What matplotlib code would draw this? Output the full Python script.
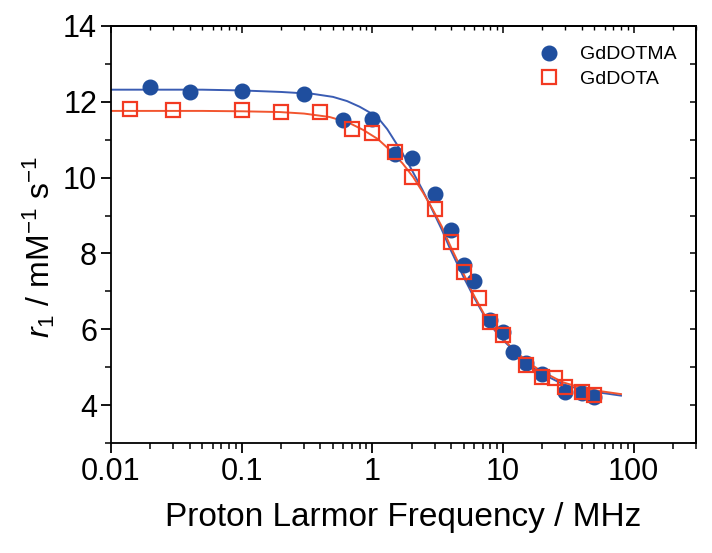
import matplotlib
matplotlib.use("Agg")
import matplotlib.pyplot as plt
from matplotlib.ticker import MultipleLocator, LogLocator, NullFormatter

plt.rcParams['font.family'] = ['Liberation Sans', 'DejaVu Sans']
plt.rcParams['mathtext.fontset'] = 'custom'
plt.rcParams['mathtext.rm'] = 'Liberation Sans'
plt.rcParams['mathtext.it'] = 'Liberation Sans:italic'

# ---- data ----
dotma_f = [0.02, 0.04, 0.1, 0.3, 0.6, 1.0, 1.5, 2, 3, 4, 5, 6, 8, 10, 12, 15, 20, 30, 40, 50]
dotma_r = [12.38, 12.26, 12.29, 12.20, 11.52, 11.55, 10.63, 10.52, 9.57, 8.62, 7.70, 7.27,
           6.25, 5.93, 5.40, 5.11, 4.82, 4.35, 4.32, 4.21]

dota_f = [0.014, 0.03, 0.1, 0.2, 0.4, 0.7, 1.0, 1.5, 2, 3, 4, 5, 6.5, 8, 10, 15, 20, 25, 30, 40, 50]
dota_r = [11.81, 11.79, 11.79, 11.73, 11.73, 11.28, 11.18, 10.68, 10.02, 9.17, 8.30, 7.51,
          6.83, 6.19, 5.85, 5.06, 4.74, 4.72, 4.48, 4.35, 4.27]

# fitted curves
dotma_fit_f = [0.01, 0.05, 0.1, 0.2, 0.35, 0.5, 0.64, 0.8, 1.0, 1.14, 1.3, 1.54, 1.8, 2.05,
               2.4, 2.76, 3.39, 3.93, 4.97, 5.92, 7.48, 9.47, 11.97, 15.1, 19.1, 28.8, 38.7, 55, 80]
dotma_fit_r = [12.32, 12.32, 12.30, 12.26, 12.21, 12.13, 12.02, 11.87, 11.68, 11.52, 11.28,
               10.88, 10.50, 10.14, 9.70, 9.28, 8.64, 8.13, 7.39, 6.88, 6.25, 5.80, 5.45, 5.12,
               4.86, 4.55, 4.42, 4.33, 4.25]

dota_fit_f = [0.01, 0.05, 0.1, 0.196, 0.3, 0.47, 0.65, 0.85, 1.1, 1.36, 1.7, 2.05, 2.45, 2.91,
              3.39, 3.93, 4.97, 5.92, 7.48, 9.47, 11.97, 15.1, 19.1, 28.8, 38.7, 55, 80]
dota_fit_r = [11.76, 11.76, 11.75, 11.73, 11.69, 11.60, 11.46, 11.26, 11.02, 10.73, 10.38,
              10.02, 9.60, 9.15, 8.72, 8.22, 7.48, 6.93, 6.28, 5.83, 5.48, 5.16, 4.92, 4.60,
              4.47, 4.37, 4.29]

series_labels = ['GdDOTMA', 'GdDOTA']
y_ticks = [4, 6, 8, 10, 12, 14]
x_ticks = [0.01, 0.1, 1, 10, 100]
x_ticklabels = ['0.01', '0.1', '1', '10', '100']

blue = '#1f4e9e'
blue_line = '#3a5cb3'
red = '#f23a22'
red_line = '#f2552f'

fig = plt.figure(figsize=(7.12, 5.53), dpi=100)
ax = fig.add_axes([0.1559, 0.1989, 0.8216, 0.7541])

ax.plot(dotma_fit_f, dotma_fit_r, '-', color=blue_line, lw=1.4, zorder=2)
ax.plot(dota_fit_f, dota_fit_r, '-', color=red_line, lw=1.4, zorder=2)
ax.plot(dotma_f, dotma_r, 'o', color=blue, ms=10.5, mec=blue, ls='none',
        label=series_labels[0], zorder=3)
ax.plot(dota_f, dota_r, 's', mfc='none', mec=red, mew=1.6, ms=9.5, ls='none',
        label=series_labels[1], zorder=4)

ax.set_xscale('log')
ax.set_xlim(0.01, 300)
ax.set_ylim(3, 14)
ax.set_xticks(x_ticks)
ax.set_xticklabels(x_ticklabels)
ax.xaxis.set_minor_locator(LogLocator(base=10, subs=range(2, 10)))
ax.xaxis.set_minor_formatter(NullFormatter())
ax.set_yticks(y_ticks)
ax.yaxis.set_minor_locator(MultipleLocator(1))

for s in ax.spines.values():
    s.set_linewidth(1.3)
ax.tick_params(which='major', direction='out', length=7, width=1.3, labelsize=22, pad=3)
ax.tick_params(which='minor', direction='out', length=4, width=1.1)

# right / top axes with inward ticks
ay2 = ax.secondary_yaxis('right')
ay2.set_yticks(y_ticks)
ay2.yaxis.set_minor_locator(MultipleLocator(1))
ay2.tick_params(which='both', direction='in', length=4, width=1.1, labelright=False)
ax2 = ax.secondary_xaxis('top')
ax2.set_xticks(x_ticks)
ax2.xaxis.set_minor_locator(LogLocator(base=10, subs=range(2, 10)))
ax2.xaxis.set_minor_formatter(NullFormatter())
ax2.tick_params(which='major', direction='in', length=5, width=1.1, labeltop=False)
ax2.tick_params(which='minor', direction='in', length=3, width=1.0, labeltop=False)
ax2.spines['top'].set_linewidth(1.3)
ay2.spines['right'].set_linewidth(1.3)

ax.set_xlabel('Proton Larmor Frequency / MHz', fontsize=24, labelpad=11)
ax.set_ylabel(r'$r_1$ / mM$^{-1}$ s$^{-1}$', fontsize=23)
ax.yaxis.set_label_coords(-0.092, 0.47)

leg = ax.legend(loc='upper right', bbox_to_anchor=(0.99, 0.985), frameon=False,
                fontsize=14, handletextpad=1.0, labelspacing=0.35, borderaxespad=0.3,
                handlelength=1.2)

fig.savefig('out.png', dpi=100)
